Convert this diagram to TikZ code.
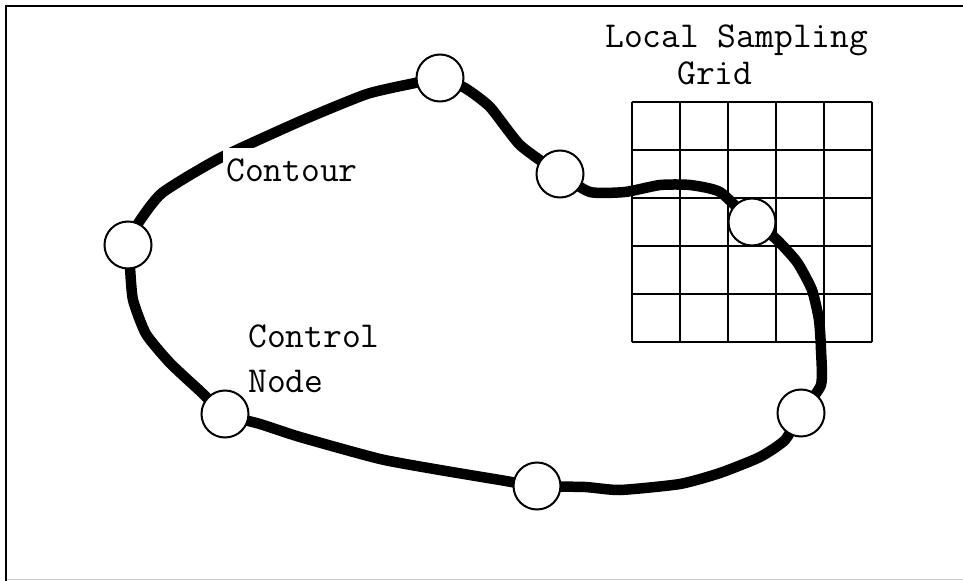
\documentclass[tikz,border=0pt]{standalone}
\begin{document}
\begin{tikzpicture}[x=1bp,y=-1bp,
  lbl/.style={font=\ttfamily\fontsize{36.5bp}{42bp}\selectfont, inner sep=0pt, anchor=base west},
  ctrl/.style={circle, draw=black, line width=2bp, fill=white, minimum size=47bp, inner sep=0pt},
  gridline/.style={line width=2.2bp},
  contour/.style={line width=10.5bp, line join=round, line cap=round}]
\useasboundingbox (0,0) rectangle (963,581);

% frame
\draw[line width=0.8bp, black!20] (6,579) -- (963,579);
\draw[line width=2.8bp] (963,6) -- (6,6) -- (6,581);

% local sampling grid (5 x 5 cells)
\foreach \i in {0,...,5} {
  \draw[gridline] (632+48*\i,102) -- (632+48*\i,342);
  \draw[gridline] (632,102+48*\i) -- (872,102+48*\i);
}

% control node positions
\coordinate (pL)  at (128,245);
\coordinate (pT)  at (440,78);
\coordinate (pM)  at (560,174);
\coordinate (pG)  at (752,222);
\coordinate (pR)  at (801,413);
\coordinate (pB)  at (537,486);
\coordinate (pLL) at (225,414);

% the contour through the control nodes
\draw[contour] plot[smooth cycle, tension=0.35] coordinates {
  (pL) (137,225) (162,193) (220,158) (303,120) (367,94) (415,83)
  (pT) (465,88) (490,107) (520,145)
  (pM) (590,192) (625,192) (660,185) (690,185) (720,192)
  (pG) (775,238) (797,262) (812,290) (819,320) (821,350) (821,385)
  (pR) (785,440) (760,457) (720,473) (680,484) (620,490) (585,487)
  (pB) (500,480) (440,470) (380,459) (300,437) (260,424)
  (pLL) (200,391) (170,363) (146,334) (133,300) (130,268)
};

% control nodes
\node[ctrl] (nL)  at (pL)  {};
\node[ctrl] (nT)  at (pT)  {};
\node[ctrl] (nM)  at (pM)  {};
\node[ctrl] (nG)  at (pG)  {};
\node[ctrl] (nR)  at (pR)  {};
\node[ctrl] (nB)  at (pB)  {};
\node[ctrl] (nLL) at (pLL) {};

% labels
\node[lbl, fill=white, inner sep=3bp, text height=31bp] (contourlbl) at (223,182) {Contour};
\node[lbl] (ctrllbl) at (248,347) {Control};
\node[lbl] (nodelbl) at (248,392) {Node};
\node[lbl] (locallbl) at (605,48) {Local Sampling};
\node[lbl] (gridlbl) at (677,85) {Grid};
\end{tikzpicture}
\end{document}
